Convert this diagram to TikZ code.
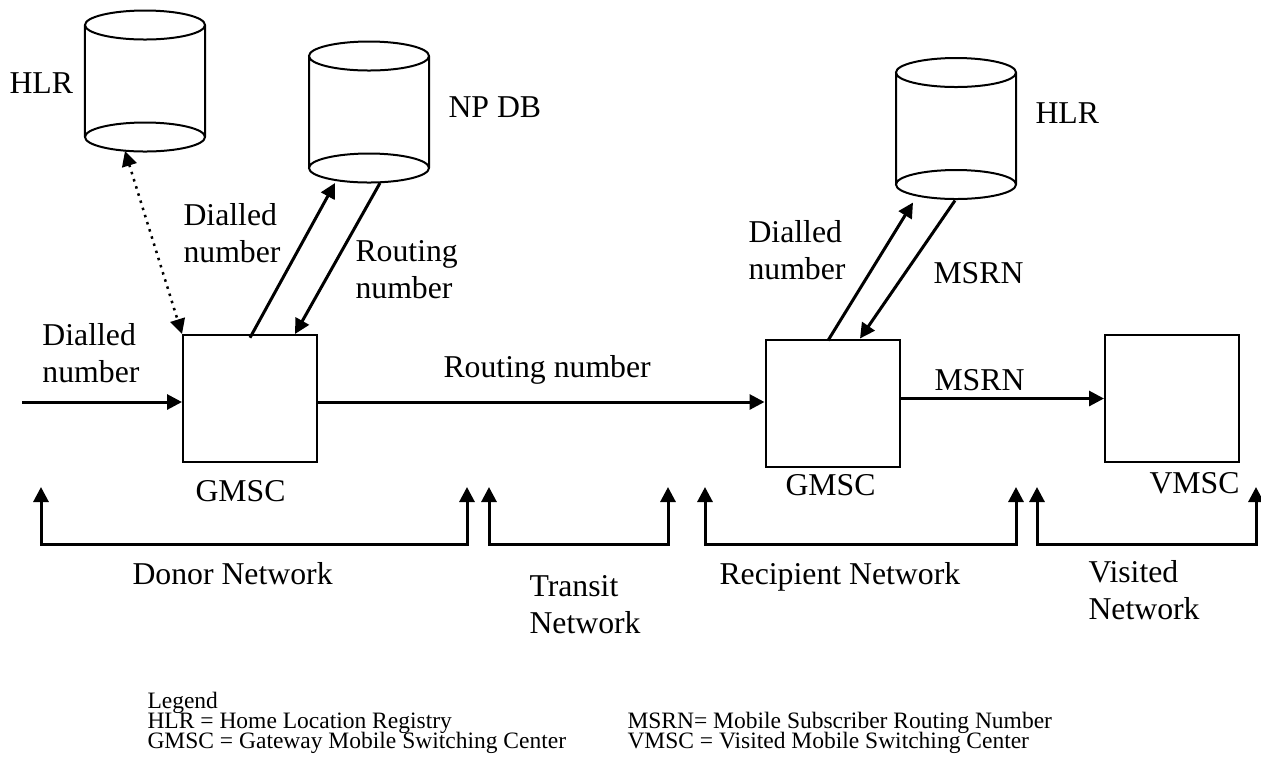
\documentclass[tikz,border=0pt]{standalone}
\usepackage{fontspec}
\setmainfont{Liberation Serif}
\usetikzlibrary{arrows.meta}
\newcommand{\mainsize}{\fontsize{12.7}{14.6}\selectfont}
\newcommand{\legsize}{\fontsize{9.4}{8}\selectfont}

\begin{document}
\begin{tikzpicture}[x=0.4pt, y=-0.4pt]

%% ── helpers ───────────────────────────────────────────────
\tikzset{
  msc/.style={rectangle,draw,line width=0.8pt,minimum width=53.6pt,
              minimum height=50.8pt,inner sep=0pt},
  db/.style={rectangle,minimum width=48pt,minimum height=44.8pt,
             inner sep=0pt,outer sep=0pt},
  lbl/.style={inner sep=0pt,anchor=base west,font=\mainsize},
  lbltwo/.style={inner sep=0pt,anchor=south west,align=left,font=\mainsize},
  leg/.style={inner sep=0pt,anchor=base west,font=\legsize},
  flow/.style={-{Triangle[length=6pt,width=6pt]},line width=1.2pt},
  span/.style={{Triangle[length=6pt,width=6pt]}-{Triangle[length=6pt,width=6pt]},
               line width=1.2pt},
  lookup/.style={{Triangle[length=6pt,width=6pt]}-{Triangle[length=6pt,width=6pt]},
                 line width=1pt,dotted},
}

\useasboundingbox (0,0) rectangle (1261,769);

%% ── databases (drawn as open cylinders) ──────────────────
\node[db] (hlrA) at (145,81)    {};
\node[db] (npdb) at (369,112)   {};
\node[db] (hlrB) at (956,128.5) {};
\foreach \c in {hlrA,npdb,hlrB}
  \draw[line width=0.8pt]
    (\c.north) ellipse [x radius=24pt,y radius=5.8pt]
    (\c.south) ellipse [x radius=24pt,y radius=5.8pt]
    (\c.north west) -- (\c.south west)
    (\c.north east) -- (\c.south east);

\node[lbl] (tHlrA) at (9,93)    {HLR};
\node[lbl] (tNpdb) at (448,117) {NP DB};
\node[lbl] (tHlrB) at (1035,123){HLR};

%% ── switching centres ────────────────────────────────────
\node[msc] (gmscA) at (250,398.5) {};
\node[msc] (gmscB) at (832.5,403) {};
\node[msc] (vmsc)  at (1172,398.5){};

\node[lbl] (tGmscA) at (195,501)  {GMSC};
\node[lbl] (tGmscB) at (785,495)  {GMSC};
\node[lbl] (tVmsc)  at (1149,493) {VMSC};

%% ── call path ────────────────────────────────────────────
\coordinate (caller) at (22,402);
\draw[flow] (caller) -- (caller -| gmscA.west);
\draw[flow] (gmscA.east |- caller) -- (gmscB.west |- caller);
\draw[flow] (gmscB.east |- vmsc.west) -- (vmsc.west);

\node[lbltwo] (tDialIn) at (42,383) {Dialled\\number};
\node[lbl]    (tRoute)  at (443,377){Routing number};
\node[lbl]    (tMsrn)   at (934,390){MSRN};

%% ── queries ──────────────────────────────────────────────
\draw[lookup] ([shift={(-8pt,-5.6pt)}]hlrA.south) -- (gmscA.north west);

\draw[flow] ([yshift=-1.5pt]gmscA.north) -- ([shift={(-13.6pt,-6pt)}]npdb.south);
\draw[flow] ([shift={(4.4pt,-6pt)}]npdb.south) -- ([xshift=18pt]gmscA.north);
\node[lbltwo] (tDialA)  at (183,263) {Dialled\\number};
\node[lbltwo] (tRouteA) at (355,299) {Routing\\number};

\draw[flow] ([shift={(-1.8pt,-0.8pt)}]gmscB.north) -- ([shift={(-17.2pt,-7.2pt)}]hlrB.south);
\draw[flow] ([shift={(-0.4pt,-6.4pt)}]hlrB.south) -- ([xshift=11pt]gmscB.north);
\node[lbltwo] (tDialB) at (748,280) {Dialled\\number};
\node[lbl]    (tMsrnB) at (933,283) {MSRN};

%% ── network spans ────────────────────────────────────────
\foreach \n/\xa/\xb in {donor/41/467, transit/489/668, recip/705/1016, visit/1037/1256} {
  \coordinate (\n-l) at (\xa,487);
  \coordinate (\n-r) at (\xb,487);
  \draw[span] (\n-l) -- ++(0,57) -| (\n-r);
}

\node[lbl]    (tDonor)   at (132,584)  {Donor Network};
\node[lbltwo] (tTransit) at (529,634)  {Transit\\Network};
\node[lbl]    (tRecip)   at (719,584)  {Recipient Network};
\node[lbltwo] (tVisit)   at (1088,620) {Visited\\Network};

%% ── legend ───────────────────────────────────────────────
\node[leg] (legHead) at (147,708) {Legend};
\node[leg] (legHlr)  at (147,728) {HLR = Home Location Registry};
\node[leg] (legGmsc) at (147,748) {GMSC = Gateway Mobile Switching Center};
\node[leg] (legMsrn) at (627,728) {MSRN= Mobile Subscriber Routing Number};
\node[leg] (legVmsc) at (627,748) {VMSC = Visited Mobile Switching Center};

\end{tikzpicture}
\end{document}
